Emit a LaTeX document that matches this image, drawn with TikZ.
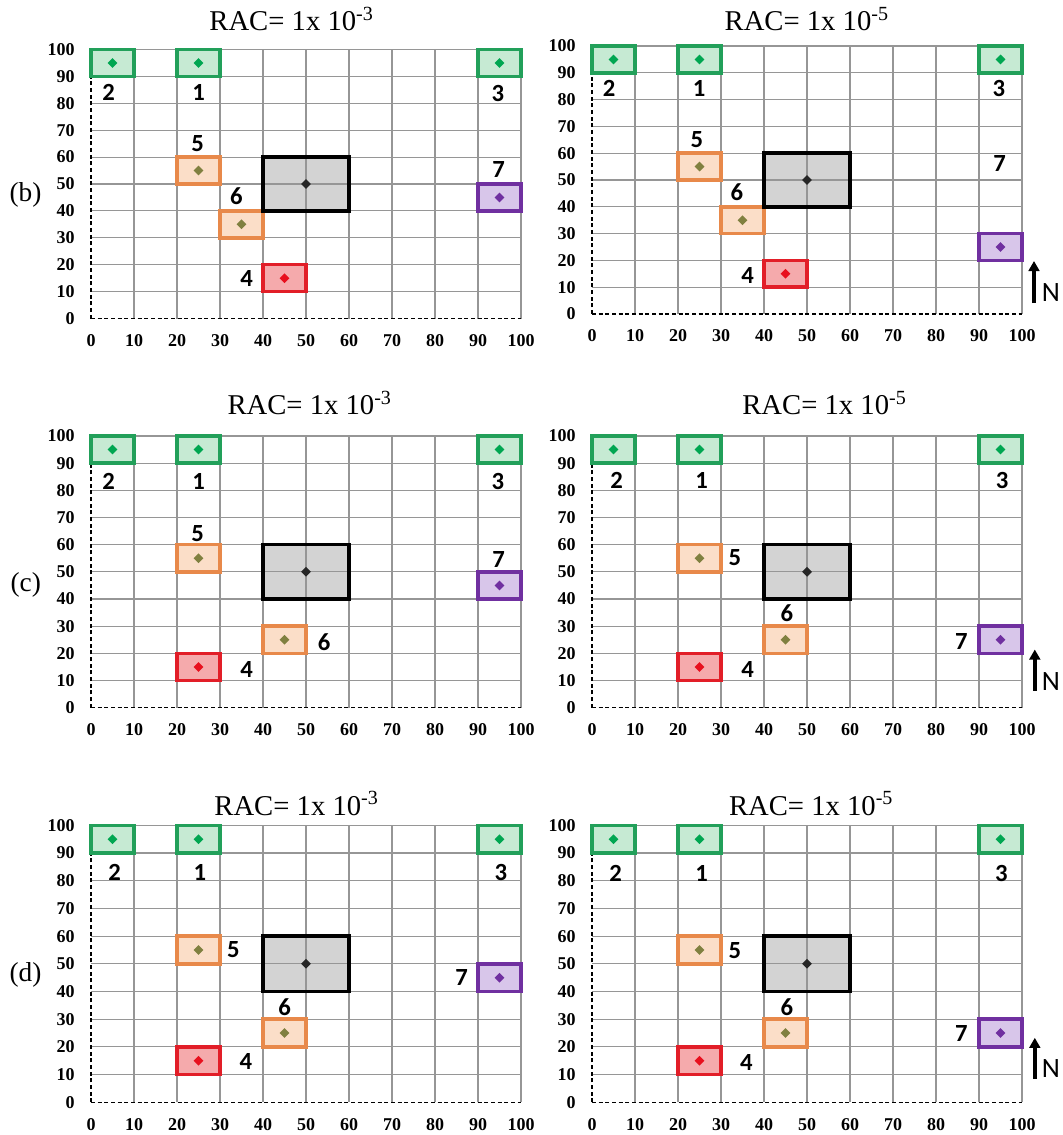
\documentclass[tikz,border=0pt]{standalone}
\usepackage{fontspec}
\setmainfont{Liberation Serif}
\newfontfamily\carl{Carlito}
\usetikzlibrary{shapes.geometric,arrows.meta}
\definecolor{grnB}{RGB}{34,160,90}
\definecolor{grnF}{RGB}{198,234,211}
\definecolor{grnD}{RGB}{0,166,81}
\definecolor{orgB}{RGB}{232,137,74}
\definecolor{orgF}{RGB}{251,222,200}
\definecolor{orgD}{RGB}{128,128,64}
\definecolor{redB}{RGB}{226,30,40}
\definecolor{redF}{RGB}{245,170,172}
\definecolor{redD}{RGB}{232,16,30}
\definecolor{purB}{RGB}{112,48,160}
\definecolor{purF}{RGB}{216,198,234}
\definecolor{purD}{RGB}{112,48,160}
\definecolor{gryB}{RGB}{0,0,0}
\definecolor{gryF}{RGB}{211,211,211}
\definecolor{gryD}{RGB}{38,38,38}
\definecolor{gridc}{RGB}{150,150,150}
\tikzset{
  gridline/.style={draw=gridc, line width=0.8pt},
  axisline/.style={draw=black, line width=0.9pt, dash pattern=on 3pt off 2pt},
  boxline/.style={line width=2.6pt},
  dmd/.style={shape=diamond, draw=none, inner sep=0pt, minimum width=7.5pt, minimum height=7.5pt},
  numlab/.style={font=\carl\bfseries\fontsize{18.5}{18.5}\selectfont, inner sep=0pt},
  ytick/.style={font=\bfseries\fontsize{13.5}{13.5}\selectfont, anchor=east, xshift=-12pt, inner sep=0pt},
  xtick/.style={font=\bfseries\fontsize{13.5}{13.5}\selectfont, yshift=-16.5pt, inner sep=0pt},
  rtitle/.style={font=\fontsize{21.5}{21.5}\selectfont, anchor=base, inner sep=0pt},
  plab/.style={font=\fontsize{20.5}{20.5}\selectfont, inner sep=0pt},
  nlab/.style={font=\carl\fontsize{21}{21}\selectfont, inner sep=0pt},
  narrow/.style={line width=3.2pt, -{Triangle[width=8pt,length=7.5pt]}}
}
\newcommand{\chartpanel}[7]{%
\begin{scope}[shift={(#1,#2)}, x=#3, y=#4]
  \foreach \bx/\by/\bw/\bc in {#5} {\fill[fill=\bc F] (\bx,\by) rectangle ++(\bw,\bw);}
  \foreach \v in {10,20,...,100} {\draw[gridline] (\v,0) -- (\v,100); \draw[gridline] (0,\v) -- (100,\v);}
  \draw[axisline] (0,0) -- (0,100);
  \draw[axisline] (0,0) -- (100,0);
  \foreach \bx/\by/\bw/\bc in {#5} {\draw[boxline, draw=\bc B] (\bx,\by) rectangle ++(\bw,\bw);
     \node[dmd, fill=\bc D] (#7-d\bx-\by) at (\bx+\bw/2,\by+\bw/2) {};}
  \foreach \lx/\ly/\lt in {#6} {\node[numlab] (#7-n\lt) at (\lx,\ly) {\lt};}
  \foreach \v in {0,10,...,100} {\node[ytick] (#7-y\v) at (0,\v) {\v}; \node[xtick] (#7-x\v) at (\v,0) {\v};}
\end{scope}}
\begin{document}
\begin{tikzpicture}[x=0.75pt, y=-0.75pt]
\useasboundingbox[fill=white] (0,0) rectangle (1063,1135);
% row (b)
\chartpanel{91}{318.5}{3.225pt}{2.0175pt}%
  {0/90/10/grn, 20/90/10/grn, 90/90/10/grn, 20/50/10/org, 30/30/10/org, 40/10/10/red, 90/40/10/pur, 40/40/20/gry}%
  {4.1/84/2, 25/84/1, 94.6/83.5/3, 24.8/65/5, 33.8/45.3/6, 36.2/14.7/4, 94.8/55.5/7}{bl}
\chartpanel{592}{314}{3.225pt}{2.01pt}%
  {0/90/10/grn, 20/90/10/grn, 90/90/10/grn, 20/50/10/org, 30/30/10/org, 40/10/10/red, 90/20/10/pur, 40/40/20/gry}%
  {4/84.2/2, 24.9/84/1, 94.6/84/3, 24.4/64.9/5, 33.7/45.3/6, 36.2/14.4/4, 94.8/56/7}{br}
% row (c)
\chartpanel{91}{707.7}{3.225pt}{2.0378pt}%
  {0/90/10/grn, 20/90/10/grn, 90/90/10/grn, 20/50/10/org, 40/20/10/org, 20/10/10/red, 90/40/10/pur, 40/40/20/gry}%
  {4.1/83.2/2, 25/83.2/1, 94.6/83.2/3, 24.8/63.9/5, 54.2/24.3/6, 36.2/14.2/4, 94.8/54.6/7}{cl}
\chartpanel{592}{707.7}{3.225pt}{2.0378pt}%
  {0/90/10/grn, 20/90/10/grn, 90/90/10/grn, 20/50/10/org, 40/20/10/org, 20/10/10/red, 90/20/10/pur, 40/40/20/gry}%
  {5.7/83.8/2, 25.5/83.8/1, 95.4/83.8/3, 33.2/55.2/5, 45.3/34.7/6, 36.2/13.9/4, 85.9/24.3/7}{cr}
% row (d)
\chartpanel{91}{1102.3}{3.225pt}{2.0775pt}%
  {0/90/10/grn, 20/90/10/grn, 90/90/10/grn, 20/50/10/org, 40/20/10/org, 20/10/10/red, 90/40/10/pur, 40/40/20/gry}%
  {5.5/82.9/2, 25.3/82.9/1, 95.3/82.9/3, 33.1/55/5, 45/34.5/6, 36/14.7/4, 86.2/45.1/7}{dl}
\chartpanel{592}{1102.3}{3.225pt}{2.0775pt}%
  {0/90/10/grn, 20/90/10/grn, 90/90/10/grn, 20/50/10/org, 40/20/10/org, 20/10/10/red, 90/20/10/pur, 40/40/20/gry}%
  {5.5/82.7/2, 25.5/82.7/1, 95.2/82.7/3, 33.2/54.6/5, 45.3/34.5/6, 35.9/14.3/4, 85.9/24.7/7}{dr}
% titles
\node[rtitle] (t1) at (291.5,31) {RAC= 1x 10\textsuperscript{-3}};
\node[rtitle] (t2) at (806.7,30.7) {RAC= 1x 10\textsuperscript{-5}};
\node[rtitle] (t3) at (309.6,414.3) {RAC= 1x 10\textsuperscript{-3}};
\node[rtitle] (t4) at (824.4,414.3) {RAC= 1x 10\textsuperscript{-5}};
\node[rtitle] (t5) at (296.5,815) {RAC= 1x 10\textsuperscript{-3}};
\node[rtitle] (t6) at (811.1,815) {RAC= 1x 10\textsuperscript{-5}};
% panel labels
\node[plab] (pb) at (25.5,195) {(b)};
\node[plab] (pc) at (25.8,585) {(c)};
\node[plab] (pd) at (25.5,975) {(d)};
% north arrows
\coordinate (a1s) at (1034,303); \coordinate (a1e) at (1034,261);
\draw[narrow] (a1s) -- (a1e);
\node[nlab] (n1) at (1051,293) {N};
\coordinate (a2s) at (1034.8,690.5); \coordinate (a2e) at (1034.8,649.5);
\draw[narrow] (a2s) -- (a2e);
\node[nlab] (n2) at (1051,681.7) {N};
\coordinate (a3s) at (1034.8,1078.8); \coordinate (a3e) at (1034.8,1037.8);
\draw[narrow] (a3s) -- (a3e);
\node[nlab] (n3) at (1051,1068.3) {N};
\end{tikzpicture}
\end{document}
